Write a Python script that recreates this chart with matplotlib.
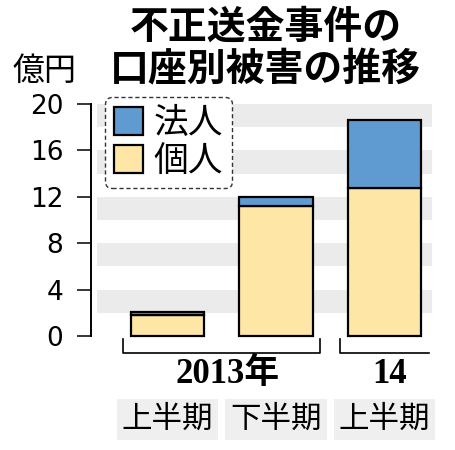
import numpy as np
import matplotlib
matplotlib.use('Agg')
import matplotlib.pyplot as plt
import matplotlib.transforms as mtransforms

# data (億円)
periods = ['上半期', '下半期', '上半期']
kojin = [1.8, 11.2, 12.8]   # 個人
hojin = [0.3, 0.8, 5.8]     # 法人
series_labels = ['法人', '個人']
year_labels = ['2013年', '14']
year_sizes = [2, 1]
yticks = [0, 4, 8, 12, 16, 20]
title_lines = ['不正送金事件の', '口座別被害の推移']
unit = '億円'

BLUE = '#5f9bd0'
YELLOW = '#fde6a6'
STRIPE = '#ebebeb'

plt.rcParams['font.family'] = ['Noto Sans CJK JP', 'DejaVu Sans']

fig = plt.figure(figsize=(4.56, 4.50), dpi=100)
ax = fig.add_axes([0.1996, 0.2533, 0.7478, 0.5156])

x = np.arange(len(periods))
width = 0.673

# grey bands every other 2 units
for lo in yticks[:-1]:
    ax.axhspan(lo + 2, lo + 4, xmin=0.018, xmax=1, color=STRIPE, lw=0, zorder=0)

bars_k = ax.bar(x, kojin, width, color=YELLOW, edgecolor='black', linewidth=1.6, zorder=3)
bars_h = ax.bar(x, hojin, width, bottom=kojin, color=BLUE, edgecolor='black', linewidth=1.6, zorder=3)
for p in list(bars_k) + list(bars_h):
    p.set_clip_on(False)

ax.set_xlim(-0.705, 2.438)
ax.set_ylim(0, 20)

for side in ['top', 'right', 'bottom']:
    ax.spines[side].set_visible(False)
ax.spines['left'].set_linewidth(1.4)
ax.spines['left'].set_bounds(0, 20)

ax.set_yticks(yticks, labels=[str(v) for v in yticks], fontfamily='DejaVu Sans')
ax.tick_params(axis='y', length=10, width=1.1, pad=10, labelsize=19)

ax.set_xticks(x, labels=periods, fontsize=22)
ax.tick_params(axis='x', length=0, pad=49)
for lbl in ax.get_xticklabels():
    lbl.set_bbox(dict(facecolor='#efefef', edgecolor='none', boxstyle='square,pad=0.17'))

# year brackets under the bars
trans = mtransforms.blended_transform_factory(ax.transData, ax.transAxes)
start = 0
for i, (label, size) in enumerate(zip(year_labels, year_sizes)):
    end = start + size - 1
    x0 = start - 0.41
    if i < len(year_labels) - 1:
        x1 = end + 0.405
        xs, ys = [x0, x0, x1, x1], [-0.013, -0.073, -0.073, -0.013]
    else:
        x1 = ax.get_xlim()[1] - 0.03
        xs, ys = [x0, x0, x1], [-0.013, -0.073, -0.073]
    ax.plot(xs, ys, transform=trans, clip_on=False, color='black', lw=1.2)
    ax.text((start + end) / 2 + 0.05, -0.168, label, transform=trans, ha='center', va='center',
            fontsize=25, family=['Liberation Serif', 'Noto Sans CJK JP'], weight='bold')
    start += size

leg = ax.legend([bars_h, bars_k], series_labels, loc='upper left',
                bbox_to_anchor=(0.041, 1.03), borderaxespad=0, fontsize=25,
                handlelength=0.85, handleheight=0.85, handletextpad=0.3,
                labelspacing=0.1, borderpad=0.25, fancybox=True,
                framealpha=1, edgecolor='#333333')
leg.get_frame().set_linestyle((0, (3, 2)))
leg.get_frame().set_linewidth(1.0)

ax.text(-0.135, 1.142, unit, transform=ax.transAxes, ha='center', va='center', fontsize=23)

fig.text(0.583, 0.94, title_lines[0], ha='center', va='center', fontsize=28, weight='bold')
fig.text(0.583, 0.844, title_lines[1], ha='center', va='center', fontsize=28, weight='bold')

fig.savefig('out.png', dpi=100)
